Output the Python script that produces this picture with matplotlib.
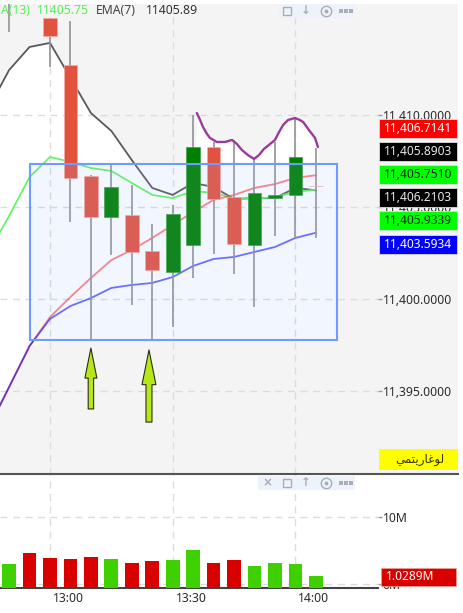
#!/usr/bin/env python3
# -*- coding: utf-8 -*-

import numpy as np
import matplotlib
matplotlib.use("Agg")
import matplotlib.pyplot as plt
from matplotlib.patches import Rectangle, FancyArrowPatch
from matplotlib.ticker import FuncFormatter, NullLocator
from matplotlib.transforms import ScaledTranslation

plt.rcParams["font.family"] = ["Noto Sans", "DejaVu Sans"]

# candles, minutes after 13:00
times = [-10, -5, 0, 5, 10, 15, 20, 25, 30, 35, 40, 45, 50, 55, 60, 65]
opens = [11416.3, 11417.4, 11415.23, 11412.68, 11406.67, 11404.44, 11404.55, 11402.60,
         11401.46, 11402.93, 11408.24, 11405.53, 11402.93, 11405.47, 11405.64, 11406.14]
closes = [11416.8, 11416.6, 11414.25, 11406.56, 11404.44, 11406.07, 11402.55, 11401.57,
          11404.61, 11408.24, 11405.42, 11402.98, 11405.75, 11405.64, 11407.70, 11406.10]
highs = [11417.0, 11417.6, 11415.23, 11415.07, 11406.72, 11407.32, 11406.18, 11404.07,
         11405.09, 11409.97, 11408.51, 11408.62, 11407.64, 11408.51, 11409.86, 11408.18]
lows = [11414.47, 11416.4, 11412.57, 11404.17, 11397.78, 11402.38, 11399.67, 11397.78,
        11398.48, 11401.14, 11402.44, 11401.36, 11399.57, 11403.41, 11403.30, 11403.30]
volumes = [1.63, 2.49, 2.06, 1.98, 2.14, 1.98, 1.70, 1.83,
           1.90, 2.80, 1.70, 1.90, 1.51, 1.70, 1.63, 1.0289]
volume_up = [True, False, False, False, False, True, False, False,
             True, True, False, False, True, True, True, True]

# moving averages, one value per candle plus the one before the first
ma_times = [-15] + times
ema7 = [11410.35, 11412.41, 11413.66, 11413.88, 11411.98, 11410.08, 11409.11, 11407.53, 11406.02,
        11405.64, 11406.29, 11406.07, 11405.42, 11405.47, 11405.47, 11406.02, 11405.89]
ema13 = [11402.55, 11404.50, 11406.61, 11407.70, 11407.43, 11407.10, 11406.94, 11406.29, 11405.64,
         11405.47, 11405.85, 11405.75, 11405.47, 11405.42, 11405.53, 11405.80, 11405.93]
ma_red = [11393.01, 11395.23, 11397.45, 11399.02, 11400.11, 11401.14, 11402.11, 11402.66, 11403.31,
          11404.01, 11404.72, 11405.37, 11405.64, 11406.02, 11406.23, 11406.56, 11406.71]
ma_blue = [11393.01, 11395.23, 11397.45, 11398.92, 11399.62, 11400.05, 11400.60, 11400.76, 11400.87,
           11401.19, 11401.79, 11402.17, 11402.28, 11402.55, 11402.82, 11403.31, 11403.59]

# hand drawn purple curve
curve_times = [35.9, 36.7, 37.4, 38.4, 39.1, 40.8, 42.8, 44.5, 45.7, 46.9, 48.4, 49.9,
               51.1, 52.3, 53.8, 55.0, 56.0, 57.0, 58.2, 59.9, 61.1, 61.9, 63.3, 64.8, 65.5]
curve_prices = [11410.08, 11409.70, 11409.32, 11408.94, 11408.73, 11408.51, 11408.51, 11408.62,
                11408.40, 11408.08, 11407.80, 11407.59, 11407.80, 11408.13, 11408.40, 11408.62,
                11409.05, 11409.43, 11409.70, 11409.81, 11409.70, 11409.59, 11409.16, 11408.73, 11408.24]

price_ticks = [11395, 11400, 11405, 11410]
tag_labels = ["11,406.7141", "11,405.8903", "11,405.7510", "11,406.2103", "11,405.9339", "11,403.5934"]
tag_colors = ["#ff0000", "#000000", "#00ff00", "#000000", "#00ff00", "#0000ff"]
tag_text_colors = ["white", "#e8e8e8", "#102010", "#e8e8e8", "#102010", "white"]
time_ticks = [0, 30, 60]
time_labels = ["13:00", "13:30", "14:00"]
volume_ticks = [0.755, 10]
volume_tick_labels = ["0M", "10M"]

BG = "#f4f4f4"
GRID = "#dcdcdc"
TEXT = "#2b2b2b"
W, H = 464, 613
PX_PER_MIN = 4.09
PX_PER_PRICE = 18.45


def axes_rect(x0, y0, x1, y1):
    return [x0 / W, 1 - y1 / H, (x1 - x0) / W, (y1 - y0) / H]


def draw_grid(ax):
    ax.grid(True, color=GRID, lw=1, linestyle=(0, (5, 4)), zorder=0)
    ax.set_axisbelow(True)


fig = plt.figure(figsize=(W / 100, H / 100), dpi=100, facecolor="white")
fig.add_artist(Rectangle((0, 1 - 474 / H), 458 / W, 470 / H, transform=fig.transFigure,
                         facecolor=BG, edgecolor="none", zorder=-1))

xlim = (-50 / PX_PER_MIN, 328 / PX_PER_MIN)

# price pane
ax = fig.add_axes(axes_rect(0, 4, 378, 474))
ax.patch.set_visible(False)
ax.set_xlim(*xlim)
ax.set_ylim(11400 - 175 / PX_PER_PRICE, 11400 + 295 / PX_PER_PRICE)
for s in ax.spines.values():
    s.set_visible(False)
ax.set_xticks(time_ticks)
ax.set_yticks(price_ticks)
ax.yaxis.tick_right()
ax.yaxis.set_major_formatter(FuncFormatter(lambda v, _: f"{v:,.4f}"))
ax.tick_params(axis="x", length=0, labelbottom=False)
ax.tick_params(axis="y", length=3, width=1, color="#999999", pad=0.5, labelsize=8.8, labelcolor=TEXT)
draw_grid(ax)

# white area under the black line and the purple curve, and under the box
box_left, box_right = -4.9, 70.2
box_low, box_high = 11397.78, 11407.32
keep = [i for i, t in enumerate(ma_times) if t <= 35]
area_x = np.array([ma_times[i] for i in keep] + curve_times)
area_top = np.array([ema7[i] for i in keep] + curve_prices)
area_low = np.minimum(np.interp(area_x, ma_times, ma_red), box_low)
ax.fill_between(area_x, area_low, area_top, color="white", lw=0, zorder=0.4)
ax.add_patch(Rectangle((box_left, box_low), box_right - box_left, box_high - box_low,
                       facecolor="white", edgecolor="none", zorder=0.4))

ax.plot(ma_times, ema7, color="#5a5a5a", lw=1.3, zorder=2)
ax.plot(ma_times, ema13, color="#5cf55c", lw=1.2, zorder=2)
ax.plot(ma_times, ma_red, color="#ff0000", lw=1.3, alpha=0.5, zorder=2)
ax.plot(ma_times, ma_blue, color="#0000ff", lw=1.3, alpha=0.6, zorder=2.1)

ax.vlines(times, lows, highs, color="#909296", lw=1.2, zorder=3)
for t, o, c in zip(times, opens, closes):
    color = "#008000" if c > o else "#e2533f"
    ax.bar(t, abs(c - o), bottom=min(o, c), width=3.35, color=color,
           edgecolor="#f7a9a0" if c <= o else "#3f9f3f", lw=0.5, zorder=4)

ax.add_patch(Rectangle((box_left, box_low), box_right - box_left, box_high - box_low,
                       facecolor="#9bb5ff", edgecolor="none", alpha=0.12, zorder=5))
ax.add_patch(Rectangle((box_left, box_low), box_right - box_left, box_high - box_low,
                       facecolor="none", edgecolor="#6f9bff", lw=1.5, zorder=5.1))
ax.plot(curve_times, curve_prices, color="#9b3a9b", lw=1.7, zorder=6, solid_capstyle="round")

for t, tip, tail, style in [
    (10.0, 11397.34, 11394.04, "simple,head_length=21.6,head_width=8.6,tail_width=3.9"),
    (24.2, 11397.24, 11393.33, "simple,head_length=25,head_width=10,tail_width=4.3"),
]:
    ax.add_patch(FancyArrowPatch((t, tail), (t, tip), arrowstyle=style, mutation_scale=1,
                                 shrinkA=0, shrinkB=0, facecolor="#b7e61a",
                                 edgecolor="#2a3010", lw=0.8, zorder=7))

# volume pane
vol = fig.add_axes(axes_rect(0, 474, 378, 588))
vol.set_facecolor("white")
vol.set_xlim(*xlim)
vol.set_yscale("log")
vol_floor = 0.647
vol.set_ylim(vol_floor, 52.5)
for name, s in vol.spines.items():
    s.set_visible(name == "bottom")
vol.spines["bottom"].set_color("#444444")
vol.spines["bottom"].set_linewidth(1.5)
vol.yaxis.set_minor_locator(NullLocator())
vol.set_yticks(volume_ticks)
vol.set_yticklabels(volume_tick_labels)
vol.yaxis.tick_right()
vol.set_xticks(time_ticks)
vol.set_xticklabels(time_labels)
vol.tick_params(axis="y", length=3, width=1, color="#999999", pad=0.5, labelsize=8.8, labelcolor=TEXT)
vol.tick_params(axis="x", length=0, pad=3, labelsize=8.8, labelcolor=TEXT)
for label in vol.get_xticklabels():
    label.set_ha("left")
    label.set_transform(label.get_transform() + ScaledTranslation(3 / 100, 0, fig.dpi_scale_trans))
draw_grid(vol)
vol.bar(times, np.array(volumes) - vol_floor, bottom=vol_floor, width=3.35,
        color=["#3fd000" if up else "#d90000" for up in volume_up], zorder=3)

# overlay in pixels: legend, price tags, toolbars
top = fig.add_axes([0, 0, 1, 1], zorder=5)
top.set_xlim(0, W)
top.set_ylim(H, 0)
top.axis("off")
top.plot([0, 458], [474, 474], color="#555555", lw=1.5)

top.text(1, 10, "A(13)", color="#55f055", fontsize=8.8, va="center")
top.text(37, 10, "11405.75", color="#55f055", fontsize=8.8, va="center")
top.text(96, 10, "EMA(7)", color="#444444", fontsize=8.8, va="center")
top.text(146, 10, "11405.89", color="#333333", fontsize=8.8, va="center")

for i, (label, fc, tc) in enumerate(zip(tag_labels, tag_colors, tag_text_colors)):
    yc = 128 + i * 23.2
    top.add_patch(Rectangle((379, yc - 9.5), 78, 19, facecolor=fc, edgecolor="#dddddd", lw=0.6))
    top.text(418, yc, label, color=tc, fontsize=8.6, ha="center", va="center")

top.add_patch(Rectangle((379, 449), 79, 21, facecolor="#ffff00", edgecolor="none"))
top.text(420, 459.5, "\uFEF2\uFEE4\uFE98\uFEF3\uFEAD\uFE8E\uFECF\uFEEE\uFEDF",
         family="DejaVu Sans", color="#333300", fontsize=8.6, ha="center", va="center")

top.add_patch(Rectangle((381, 568), 75, 18, facecolor="#d90000", edgecolor="#f0a0a0", lw=0.5))
top.text(386, 577, "1.0289M", color="white", fontsize=8.6, va="center")


def toolbar(x0, x1, yc, xs):
    top.add_patch(Rectangle((x0, yc - 7), x1 - x0, 14, facecolor="#eef3fb", edgecolor="none"))
    for kind, x in xs:
        if kind == "box":
            top.plot(x, yc, "s", ms=5.5, mfc="none", mec="#a8aeb8", mew=1)
        elif kind == "target":
            top.plot(x, yc, "o", ms=7.5, mfc="none", mec="#a8aeb8", mew=1)
            top.plot(x, yc, "o", ms=1.8, color="#a8aeb8")
        elif kind == "more":
            top.plot([x - 5, x, x + 5], [yc, yc, yc], "s", ms=2.4, mew=0, color="#a8aeb8")
        else:
            top.text(x, yc, kind, family="DejaVu Sans", color="#a8aeb8", fontsize=8.5,
                     ha="center", va="center", fontweight="bold")


toolbar(278, 355, 11, [("box", 287), ("\u2193", 306), ("target", 326), ("more", 346)])
toolbar(258, 355, 483, [("\u00d7", 267), ("box", 287), ("\u2191", 306), ("target", 326), ("more", 346)])

fig.savefig("out.png", dpi=100)
